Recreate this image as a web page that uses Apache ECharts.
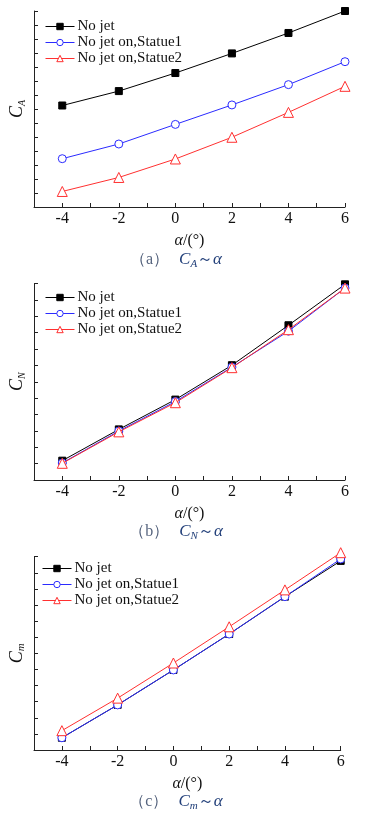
<!DOCTYPE html>
<html>
<head>
<meta charset="utf-8">
<script src="https://cdn.jsdelivr.net/npm/echarts@6/dist/echarts.min.js"></script>
<style>
html, body { margin: 0; padding: 0; background: #fff; }
#chart { width: 367px; height: 813px; }
</style>
</head>
<body>
<div id="chart"></div>
<script>
// angle of attack (deg)
var alpha = [-4, -2, 0, 2, 4, 6];
var seriesNames = ['No jet', 'No jet on,Statue1', 'No jet on,Statue2'];

// values read in tick units (y axes carry no labels)
var caNoJet = [7.25, 8.28, 9.57, 10.97, 12.43, 14.0];
var caStatue1 = [3.45, 4.5, 5.9, 7.29, 8.74, 10.38];
var caStatue2 = [1.11, 2.11, 3.43, 4.98, 6.76, 8.62];

var cnNoJet = [1.18, 3.09, 4.91, 7.01, 9.45, 11.95];
var cnStatue1 = [1.04, 2.99, 4.79, 6.89, 9.09, 11.72];
var cnStatue2 = [1.02, 2.94, 4.72, 6.86, 9.18, 11.72];

var cmNoJet = [0.76, 2.8, 4.97, 7.2, 9.52, 11.74];
var cmStatue1 = [0.76, 2.8, 4.97, 7.2, 9.52, 11.86];
var cmStatue2 = [1.2, 3.22, 5.4, 7.65, 9.94, 12.25];

var serif = '"Liberation Serif", "Times New Roman", serif';
var colors = ['#000000', '#2b2bff', '#ff3030'];
var symbols = ['rect', 'circle', 'triangle'];
var symbolSizes = [7, 8, 10];
var fills = ['#000000', '#ffffff', '#ffffff'];

var chart = echarts.init(document.getElementById('chart'));

function pairs(ys) {
    return alpha.map(function (a, i) { return [a, ys[i]]; });
}

function xAxis(idx) {
    return {
        type: 'value', gridIndex: idx, min: -5, max: 6, interval: 1,
        name: '{a|α}{b|/(°)}', nameLocation: 'middle', nameGap: 26,
        nameTextStyle: {
            rich: {
                a: { fontFamily: serif, fontStyle: 'italic', fontSize: 16, color: '#111' },
                b: { fontFamily: serif, fontSize: 16, color: '#111' }
            }
        },
        axisLine: { show: true, onZero: false, lineStyle: { color: '#222', width: 1 } },
        axisTick: { show: true, inside: true, length: 4, lineStyle: { color: '#222' } },
        axisLabel: {
            margin: 4, fontFamily: serif, fontSize: 16, color: '#111',
            formatter: function (v) { return v % 2 === 0 ? String(v) : ''; }
        },
        splitLine: { show: false }
    };
}

function yAxis(idx, max, sub, subSize) {
    return {
        type: 'value', gridIndex: idx, min: 0, max: max, interval: 1,
        name: '{c|C}{s|' + sub + '}', nameLocation: 'middle', nameGap: 7, nameRotate: 90,
        nameTextStyle: {
            rich: {
                c: { fontFamily: serif, fontStyle: 'italic', fontSize: 18, color: '#111', lineHeight: 20 },
                s: { fontFamily: serif, fontStyle: 'italic', fontSize: subSize, color: '#111', verticalAlign: 'bottom', lineHeight: 12 }
            }
        },
        axisLine: { show: true, onZero: false, lineStyle: { color: '#222', width: 1 } },
        axisTick: { show: true, inside: true, length: 4, lineStyle: { color: '#222' } },
        axisLabel: { show: false },
        splitLine: { show: false }
    };
}

function lineSeries(idx, k, ys) {
    return {
        type: 'line', name: seriesNames[k], xAxisIndex: idx, yAxisIndex: idx,
        data: pairs(ys), symbol: symbols[k], symbolSize: symbolSizes[k],
        clip: false, animation: false,
        lineStyle: { color: colors[k], width: 1 },
        itemStyle: { color: fills[k], borderColor: colors[k], borderWidth: 1 },
        emphasis: { disabled: true },
        z: 2 + k
    };
}

function legend(left, top) {
    return {
        data: seriesNames, orient: 'vertical', left: left, top: top,
        itemWidth: 29, itemHeight: 8, itemGap: 1, selectedMode: false,
        lineStyle: { width: 1 },
        itemStyle: { borderWidth: 1 },
        textStyle: { fontFamily: serif, fontSize: 15, color: '#111', padding: [0, 0, 0, -2] }
    };
}

function caption(y, tag, sub) {
    return {
        type: 'text', x: 176, y: y,
        style: {
            text: '{p|（' + tag + '）}   {c|C}{s|' + sub + '}{t|～}{a|α}',
            align: 'center', verticalAlign: 'middle',
            rich: {
                p: { fontFamily: serif, fontSize: 16, fill: '#56647e' },
                c: { fontFamily: serif, fontStyle: 'italic', fontSize: 17, fill: '#23407a', lineHeight: 20 },
                s: { fontFamily: serif, fontStyle: 'italic', fontSize: 11, fill: '#23407a', verticalAlign: 'bottom', lineHeight: 13 },
                t: { fontFamily: serif, fontSize: 16, fill: '#23407a' },
                a: { fontFamily: serif, fontStyle: 'italic', fontSize: 17, fill: '#23407a' }
            }
        }
    };
}

var option = {
    backgroundColor: '#fff',
    animation: false,
    grid: [
        { left: 31.5, right: 22, top: 11, height: 196 },
        { left: 31.5, right: 22, top: 283.5, height: 196.5 },
        { left: 29, right: 26.3, top: 556.7, height: 193.3 }
    ],
    xAxis: [xAxis(0), xAxis(1), xAxis(2)],
    yAxis: [yAxis(0, 14, 'A', 10), yAxis(1, 12, 'N', 10), yAxis(2, 12, 'm', 11)],
    legend: [legend(40, 14), legend(40, 285), legend(37, 556)],
    series: [
        lineSeries(0, 0, caNoJet), lineSeries(0, 1, caStatue1), lineSeries(0, 2, caStatue2),
        lineSeries(1, 0, cnNoJet), lineSeries(1, 1, cnStatue1), lineSeries(1, 2, cnStatue2),
        lineSeries(2, 0, cmNoJet), lineSeries(2, 1, cmStatue1), lineSeries(2, 2, cmStatue2)
    ],
    graphic: [
        caption(260, 'a', 'A'),
        caption(532, 'b', 'N'),
        caption(802, 'c', 'm')
    ]
};

chart.setOption(option);
window.addEventListener('resize', chart.resize);
</script>
</body>
</html>
